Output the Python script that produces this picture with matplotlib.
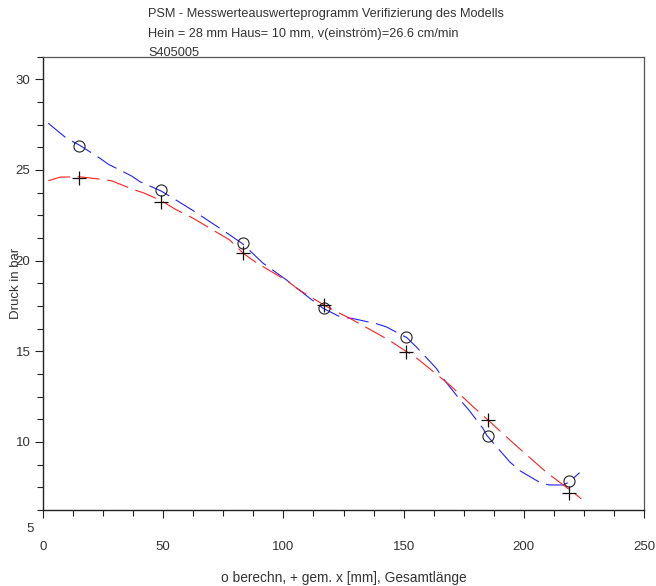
import matplotlib
matplotlib.use("Agg")
import matplotlib.pyplot as plt
from matplotlib.ticker import MultipleLocator

plt.rcParams['font.family'] = ['Liberation Sans', 'DejaVu Sans']
plt.rcParams['lines.scale_dashes'] = False

# measurement positions
x_pts = [15, 49, 83, 117, 151, 185, 219]
p_berechn = [26.3, 23.9, 20.95, 17.37, 15.77, 10.35, 7.87]
p_gemessen = [24.55, 23.25, 20.43, 17.57, 14.98, 11.21, 7.2]

# fitted curves
x_blue = [2.2, 9.8, 15.1, 23.7, 27.2, 36.9, 40.3, 48.9, 53.5, 63.2, 76.3, 82.8, 91.6,
          101.3, 111.0, 116.5, 123.4, 129.0, 138.7, 142.9, 149.1, 151.2, 155.3, 163.6,
          166.4, 173.3, 176.8, 183.0, 184.7, 194.1, 198.3, 207.3, 210.7, 216.3, 219.0, 223.2]
y_blue = [27.57, 26.74, 26.37, 25.64, 25.31, 24.66, 24.35, 23.85, 23.49, 22.69, 21.54, 20.95, 19.85,
          18.93, 17.92, 17.37, 16.91, 16.80, 16.52, 16.34, 15.9, 15.77, 15.24, 14.06,
          13.51, 12.35, 11.82, 10.75, 10.35, 8.91, 8.42, 7.72, 7.63, 7.63, 7.8, 8.31]

x_red = [2.2, 7.1, 15.1, 24.4, 28.5, 37.5, 41.7, 49.3, 54.9, 62.5, 77.7, 83.3, 88.8,
         102.0, 106.1, 116.9, 122.1, 127.6, 140.1, 144.9, 151.2, 153.9, 158.1, 169.2,
         179.6, 185.1, 192.7, 196.9, 205.2, 209.4, 217.7, 221.1, 223.9]
y_red = [24.40, 24.60, 24.62, 24.48, 24.40, 23.92, 23.74, 23.30, 22.84, 22.33, 21.13, 20.4, 19.88,
         18.84, 18.42, 17.55, 17.18, 16.82, 15.9, 15.53, 14.98, 14.79, 14.34, 13.14,
         11.86, 11.21, 10.29, 9.79, 8.82, 8.33, 7.5, 7.17, 6.86]

title_lines = ["PSM - Messwerteauswerteprogramm Verifizierung des Modells",
               "Hein = 28 mm Haus= 10 mm, v(einström)=26.6 cm/min",
               "S405005"]

W, H = 656, 586
fig = plt.figure(figsize=(W / 100, H / 100), dpi=100)
ax = fig.add_axes([43 / W, 1 - 510 / H, 601 / W, 453.5 / H])

ax.plot(x_blue, y_blue, color='#2020ff', lw=0.8, dashes=(16, 5.5))
ax.plot(x_red, y_red, color='#ff2020', lw=0.8, dashes=(16, 5.5))
ax.plot(x_pts, p_berechn, ls='none', marker='o', ms=8, mfc='none', mec='#222222', mew=0.8)
ax.plot(x_pts, p_gemessen, ls='none', marker='+', ms=10, color='#111111', mew=0.9)

ax.set_xlim(0, 250)
ax.set_ylim(6.25, 31.25)
ax.xaxis.set_major_locator(MultipleLocator(50))
ax.xaxis.set_minor_locator(MultipleLocator(12.5))
ax.yaxis.set_major_locator(MultipleLocator(5))
ax.yaxis.set_minor_locator(MultipleLocator(1.25))
ax.tick_params(which='both', direction='out', colors='#222222', labelcolor='#333333',
               top=False, right=False, width=0.8)
ax.tick_params(axis='x', which='major', length=6, pad=16, labelsize=9.5)
ax.tick_params(axis='x', which='minor', length=4)
ax.tick_params(axis='y', which='major', length=6, pad=3, labelsize=9.5)
ax.tick_params(axis='y', which='minor', length=4)

for side in ['left', 'bottom']:
    ax.spines[side].set_color('#222222')
    ax.spines[side].set_linewidth(1.0)
for side in ['top', 'right']:
    ax.spines[side].set_color('#555555')
    ax.spines[side].set_linewidth(0.9)

# lone "5" label below the axis
ax.text(-0.016, 5.2, "5", transform=ax.get_yaxis_transform(), ha='right', va='center',
        fontsize=9.5, color='#333333', clip_on=False)

ax.set_ylabel("Druck in bar", fontsize=9.5, color='#333333')
ax.yaxis.set_label_coords(-21 / 601, 0.5)
ax.set_xlabel("o berechn, + gem. x [mm], Gesamtlänge", fontsize=9.9, color='#333333')
ax.xaxis.set_label_coords(0.5, (510 - 571) / 453.5)

for i, t in enumerate(title_lines):
    fig.text(148 / W, 1 - (14 + 19.5 * i) / H, t, ha='left', va='center',
             fontsize=9.2, color='#333333')

fig.savefig("out.png", dpi=100)
